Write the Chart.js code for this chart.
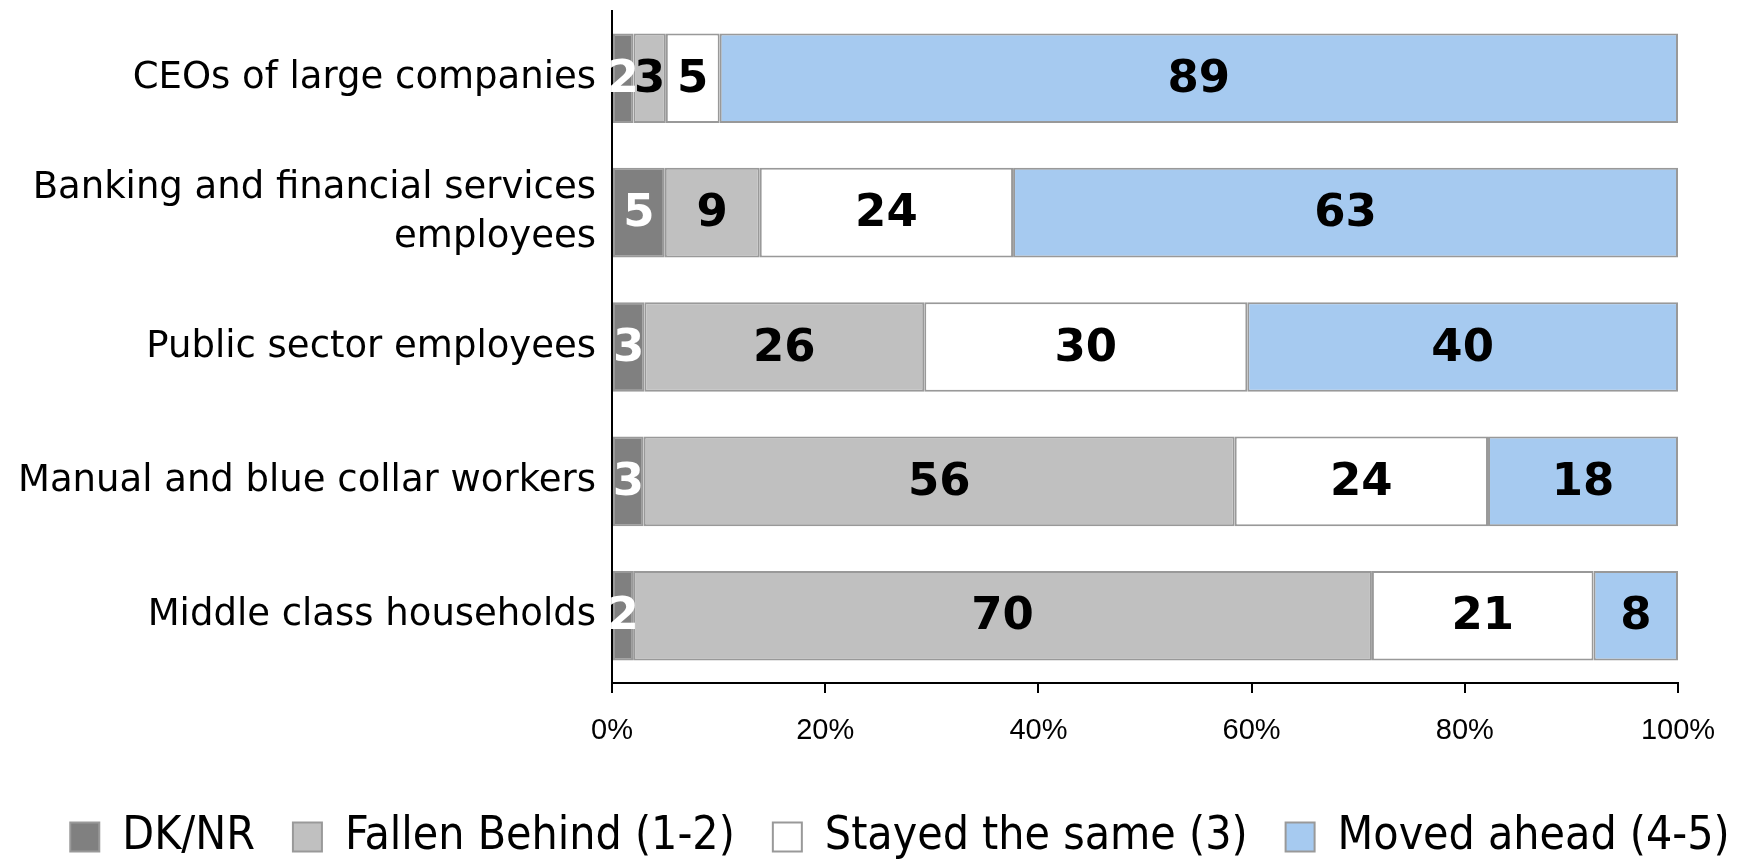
<!DOCTYPE html>
<html>
<head>
<meta charset="utf-8">
<script src="https://cdn.jsdelivr.net/npm/chart.js@4.4.1/dist/chart.umd.min.js"></script>
<style>
  html, body { margin: 0; padding: 0; background: #fff; }
  #wrap { width: 1754px; height: 864px; }
</style>
</head>
<body>
<div id="wrap"><canvas id="chart" width="1754" height="864"></canvas></div>
<script>
const categories = [
  "CEOs of large companies",
  ["Banking and financial services", "employees"],
  "Public sector employees",
  "Manual and blue collar workers",
  "Middle class households"
];
const seriesNames = ["DK/NR", "Fallen Behind (1-2)", "Stayed the same (3)", "Moved ahead (4-5)"];
const dkNr = [2, 5, 3, 3, 2];
const fallenBehind = [3, 9, 26, 56, 70];
const stayedSame = [5, 24, 30, 24, 21];
const movedAhead = [89, 63, 40, 18, 8];
const xTicks = ["0%", "20%", "40%", "60%", "80%", "100%"];

const colors = ["#808080", "#c0c0c0", "#ffffff", "#a6caf0"];
const labelColors = ["#ffffff", "#000000", "#000000", "#000000"];

const allSeries = [dkNr, fallenBehind, stayedSame, movedAhead];
const totals = categories.map((_, i) => allSeries.reduce((s, arr) => s + arr[i], 0));

// 100% stacked: each bar is scaled by its row total
const datasets = allSeries.map((values, k) => ({
  label: seriesNames[k],
  data: values.map((v, i) => v / totals[i] * 100),
  raw: values,
  backgroundColor: colors[k],
  borderColor: "#999999",
  borderWidth: 2,
  borderSkipped: false,
  barPercentage: 0.667,
  categoryPercentage: 1.0
}));

const valueLabels = {
  id: "valueLabels",
  afterDatasetsDraw(chart) {
    const ctx = chart.ctx;
    ctx.save();
    ctx.font = "bold 45px 'DejaVu Sans'";
    ctx.textAlign = "center";
    ctx.textBaseline = "middle";
    chart.data.datasets.forEach((ds, k) => {
      const meta = chart.getDatasetMeta(k);
      meta.data.forEach((bar, i) => {
        const p = bar.getProps(["x", "y", "base"], true);
        ctx.fillStyle = labelColors[k];
        ctx.fillText(String(ds.raw[i]), (p.x + p.base) / 2, p.y + 2);
      });
    });
    ctx.restore();
  }
};

new Chart(document.getElementById("chart"), {
  type: "bar",
  data: { labels: categories, datasets },
  options: {
    indexAxis: "y",
    responsive: false,
    animation: false,
    layout: { padding: { top: 11, left: 0, right: -46, bottom: -6 } },
    plugins: {
      legend: {
        position: "bottom",
        labels: {
          font: { family: "'DejaVu Sans Condensed', 'Liberation Sans Narrow', 'DejaVu Sans'", size: 46 },
          color: "#000",
          boxWidth: 29,
          boxHeight: 29,
          padding: 38
        }
      },
      tooltip: { enabled: false }
    },
    scales: {
      x: {
        stacked: true,
        min: 0,
        max: 100,
        ticks: {
          stepSize: 20,
          padding: 21,
          color: "#000",
          font: { family: "'Liberation Sans', Arial", size: 29 },
          callback: (v, i) => xTicks[i]
        },
        grid: { drawOnChartArea: false, drawTicks: true, tickLength: 10, color: "#000", lineWidth: 2 },
        border: { display: true, color: "#000", width: 2 },
        afterFit(scale) {
          scale.height = 93;
          scale.paddingRight = 76;
        }
      },
      y: {
        stacked: true,
        ticks: {
          padding: 16,
          color: "#000",
          font: { family: "'DejaVu Sans'", size: 37, lineHeight: 1.33 }
        },
        grid: { display: false, drawTicks: false },
        border: { display: true, color: "#000", width: 2 },
        afterFit(scale) {
          scale.width = 612;
          scale.paddingTop = 0;
          scale.paddingBottom = 0;
        }
      }
    }
  },
  plugins: [valueLabels]
});
</script>
</body>
</html>
